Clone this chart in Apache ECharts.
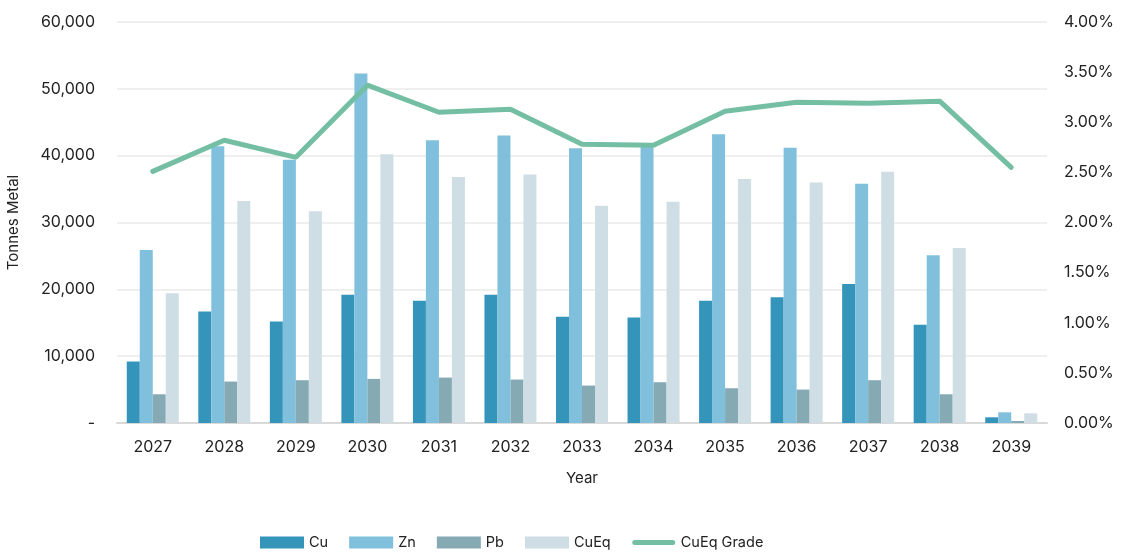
<!DOCTYPE html>
<html><head><meta charset="utf-8">
<script src="https://cdn.jsdelivr.net/npm/echarts@6/dist/echarts.min.js"></script>
<style>html,body{margin:0;padding:0;background:#fff}#c{width:1121px;height:552px}</style>
</head><body><div id="c"></div>
<script>
const years = ['2027','2028','2029','2030','2031','2032','2033','2034','2035','2036','2037','2038','2039'];
const cu    = [9200,16700,15200,19200,18300,19200,15900,15800,18300,18800,20800,14700,850];
const zn    = [25900,41400,39400,52300,42300,43000,41100,41500,43200,41200,35800,25100,1600];
const pb    = [4300,6200,6400,6600,6800,6500,5600,6100,5200,5000,6400,4300,300];
const cueq  = [19400,33200,31700,40200,36800,37200,32500,33100,36500,36000,37600,26200,1450];
const grade = [2.51,2.82,2.65,3.37,3.10,3.13,2.78,2.77,3.11,3.20,3.19,3.21,2.55];

const FONT = 'Inter, "Liberation Sans", sans-serif';
const chart = echarts.init(document.getElementById('c'));
const bar = (name, data, color) => ({
  name, type: 'bar', data, yAxisIndex: 0, barWidth: 13, barGap: '0%',
  itemStyle: { color }
});
const lineIcon = 'path://M0,0 M44,12 M3,3.5 L41,3.5 A2.5,2.5 0 0 1 41,8.5 L3,8.5 A2.5,2.5 0 0 1 3,3.5 Z';
chart.setOption({
  animation: false,
  textStyle: { fontFamily: FONT },
  grid: { left: 117, right: 74, top: 22, bottom: 129, containLabel: false, outerBoundsMode: 'none' },
  legend: {
    bottom: 2, left: 260, padding: 0, itemWidth: 44, itemHeight: 12, itemGap: 21,
    textStyle: { fontSize: 14.5, color: '#222', fontFamily: FONT },
    data: [
      { name: 'Cu', icon: 'rect' }, { name: 'Zn', icon: 'rect' },
      { name: 'Pb', icon: 'rect' }, { name: 'CuEq', icon: 'rect' },
      { name: 'CuEq Grade', icon: lineIcon, itemStyle: { color: '#74bfa3', borderWidth: 0 } }
    ]
  },
  xAxis: {
    type: 'category', data: years,
    name: 'Year', nameLocation: 'middle', nameGap: 48,
    nameTextStyle: { fontSize: 15, color: '#222' },
    axisLine: { lineStyle: { color: '#d9d9d9', width: 2 } },
    axisTick: { show: false },
    axisLabel: { fontSize: 16, color: '#222', margin: 16 }
  },
  yAxis: [
    {
      type: 'value', min: 0, max: 60000, interval: 10000,
      name: 'Tonnes Metal', nameLocation: 'middle', nameGap: 96, nameRotate: 90,
      nameTextStyle: { fontSize: 15, color: '#222' },
      axisLine: { show: false }, axisTick: { show: false },
      axisLabel: { fontSize: 16, color: '#222', margin: 22,
        formatter: v => v === 0 ? '-' : v.toLocaleString('en-US') },
      splitLine: { lineStyle: { color: '#efefef', width: 2 } }
    },
    {
      type: 'value', min: 0, max: 4, interval: 0.5,
      axisLine: { show: false }, axisTick: { show: false },
      axisLabel: { fontSize: 16, color: '#222', margin: 17,
        formatter: v => v.toFixed(2) + '%' },
      splitLine: { show: false }
    }
  ],
  series: [
    bar('Cu', cu, '#3594ba'),
    bar('Zn', zn, '#80c0dc'),
    bar('Pb', pb, '#85aab4'),
    bar('CuEq', cueq, '#cfdee4'),
    {
      name: 'CuEq Grade', type: 'line', yAxisIndex: 1, data: grade,
      symbol: 'none', lineStyle: { color: '#74bfa3', width: 5, cap: 'round' },
      itemStyle: { color: '#74bfa3' }, z: 5
    }
  ]
});
</script></body></html>
